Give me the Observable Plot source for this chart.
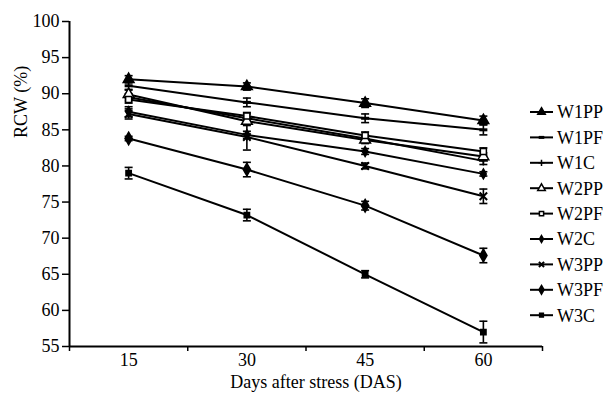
<!DOCTYPE html>
<html><head><meta charset="utf-8">
<script src="https://cdn.jsdelivr.net/npm/d3@7"></script>
<script src="https://cdn.jsdelivr.net/npm/@observablehq/plot@0.6"></script>
<style>
body{margin:0;background:#fff;}
#wrap{position:relative;width:615px;height:397px;font-family:"Liberation Serif",serif;}
#legend{position:absolute;left:0;top:0;pointer-events:none;}
</style></head><body><div id="wrap"></div>
<script>
// ---- data ----
const days = [15, 30, 45, 60];
const seriesNames = ["W1PP","W1PF","W1C","W2PP","W2PF","W2C","W3PP","W3PF","W3C"];
const W1PP = [92.0, 91.0, 88.7, 86.3];
const W1PF = [91.1, 88.8, 86.6, 85.0];
const W1C  = [89.5, 86.6, 83.8, 80.7];
const W2PP = [89.9, 86.2, 83.6, 81.3];
const W2PF = [89.2, 86.9, 84.2, 82.0];
const W2C  = [87.5, 84.3, 82.0, 78.9];
const W3PP = [87.2, 84.0, 80.0, 75.8];
const W3PF = [83.8, 79.5, 74.5, 67.6];
const W3C  = [79.0, 73.2, 65.0, 57.0];
const errW1PP = [0.5, 0.5, 0.6, 0.6];
const errW1PF = [0.5, 0.6, 0.6, 0.7];
const errW1C  = [0.5, 0.6, 0.5, 0.5];
const errW2PP = [0.6, 0.6, 0.5, 0.5];
const errW2PF = [0.5, 0.5, 0.5, 0.5];
const errW2C  = [0.7, 0.5, 0.4, 0.3];
const errW3PP = [0.7, 1.8, 0.4, 1.0];
const errW3PF = [0.3, 1.0, 0.6, 1.0];
const errW3C  = [0.8, 0.8, 0.5, 1.5];
const yTicks = [55, 60, 65, 70, 75, 80, 85, 90, 95, 100];
const xBoundaryTicks = [7.5, 22.5, 37.5, 52.5, 67.5];

const values = {W1PP, W1PF, W1C, W2PP, W2PF, W2C, W3PP, W3PF, W3C};
const errors = {W1PP: errW1PP, W1PF: errW1PF, W1C: errW1C, W2PP: errW2PP, W2PF: errW2PF,
                W2C: errW2C, W3PP: errW3PP, W3PF: errW3PF, W3C: errW3C};

// ---- symbols ----
const rad = s => Math.sqrt(s / Math.PI);
const lineSym = {draw(c, s){const r = rad(s); c.moveTo(-r, 0); c.lineTo(r, 0);}};
const plusSym = {draw(c, s){const r = rad(s); c.moveTo(-r, 0); c.lineTo(r, 0); c.moveTo(0, -r); c.lineTo(0, r);}};
const style = {
  W1PP: {symbol: d3.symbolTriangle, fill: "black", stroke: "black", r: 4},
  W1PF: {symbol: lineSym, fill: "none", stroke: "black", r: 4, sw: 3},
  W1C:  {symbol: plusSym, fill: "none", stroke: "black", r: 4.5},
  W2PP: {symbol: d3.symbolTriangle, fill: "white", stroke: "black", r: 4},
  W2PF: {symbol: d3.symbolSquare, fill: "white", stroke: "black", r: 3.4},
  W2C:  {symbol: d3.symbolDiamond, fill: "black", stroke: "black", r: 3},
  W3PP: {symbol: d3.symbolTimes, fill: "none", stroke: "black", r: 3.5, sw: 2},
  W3PF: {symbol: d3.symbolDiamond, fill: "black", stroke: "black", r: 3.8},
  W3C:  {symbol: d3.symbolSquare, fill: "black", stroke: "black", r: 3}
};
const legendScale = 0.7;

const rows = [];
for (const s of seriesNames) days.forEach((d, i) => rows.push({series: s, x: d, y: values[s][i], lo: values[s][i] - errors[s][i], hi: values[s][i] + errors[s][i]}));

const marks = [
  Plot.ruleX([7.5], {strokeWidth: 2}),
  Plot.ruleY([55], {strokeWidth: 2}),
  Plot.axisY({ticks: yTicks, tickSize: 7, tickPadding: 3, fontSize: 18, label: null, strokeWidth: 1.5}),
  Plot.ruleX(xBoundaryTicks, {y1: 55, y2: 55, insetBottom: -5, strokeWidth: 1.5}),
  Plot.axisX({ticks: days, tickSize: 0, tickPadding: 7, fontSize: 18, label: null}),
  Plot.text(["Days after stress (DAS)"], {frameAnchor: "bottom", dy: 41, dx: 10, fontSize: 18}),
  Plot.text(["RCW (%)"], {frameAnchor: "left", rotate: -90, dx: -48, dy: -46, fontSize: 18}),
  Plot.line(rows, {x: "x", y: "y", z: "series", stroke: "black", strokeWidth: 2}),
  Plot.ruleX(rows, {x: "x", y1: "lo", y2: "hi", stroke: "black", strokeWidth: 1.6}),
  Plot.dot(rows, {x: "x", y: "lo", symbol: lineSym, r: 4, stroke: "black", strokeWidth: 1.6}),
  Plot.dot(rows, {x: "x", y: "hi", symbol: lineSym, r: 4, stroke: "black", strokeWidth: 1.6})
];
for (const s of seriesNames) {
  const st = style[s];
  marks.push(Plot.dot(rows.filter(d => d.series === s), {x: "x", y: "y", symbol: st.symbol, r: st.r, fill: st.fill, stroke: st.stroke, strokeWidth: st.sw || 1.5}));
}

const chart = Plot.plot({
  width: 615, height: 397,
  marginLeft: 69, marginRight: 73, marginTop: 21, marginBottom: 51,
  x: {domain: [7.5, 67.5], label: null},
  y: {domain: [55, 100], label: null},
  style: {fontFamily: "Liberation Serif", fontSize: "18px", background: "white", color: "black"},
  marks
});
const wrap = document.getElementById("wrap");
wrap.appendChild(chart);

// ---- legend overlay ----
const leg = d3.select(wrap).append("svg").attr("id", "legend").attr("width", 615).attr("height", 397);
seriesNames.forEach((s, i) => {
  const st = style[s];
  const lr = st.r * legendScale;
  const g = leg.append("g").attr("transform", `translate(0,${112 + i * 25.4})`);
  g.append("line").attr("x1", 530).attr("x2", 553).attr("stroke", "black").attr("stroke-width", 2);
  g.append("path").attr("transform", "translate(541.5,0)")
    .attr("d", d3.symbol().type(st.symbol).size(Math.PI * lr * lr)())
    .attr("fill", st.fill).attr("stroke", st.stroke).attr("stroke-width", st.sw || 1.5);
  g.append("text").attr("x", 557).attr("dy", "0.35em").attr("font-size", 18)
    .attr("font-family", "Liberation Serif").text(s);
});
</script></body></html>
